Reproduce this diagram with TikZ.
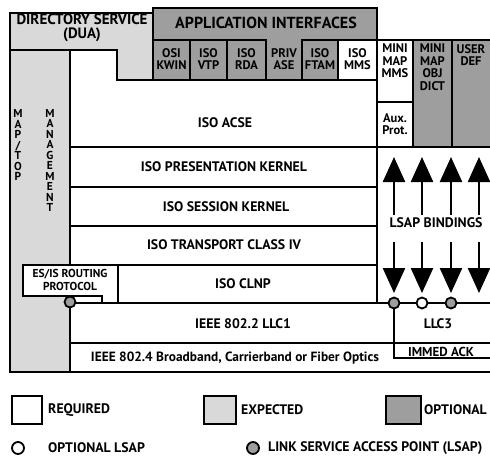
\documentclass[tikz,border=0pt]{standalone}
\usepackage{fontspec}
\setmainfont{PT Sans}
\usetikzlibrary{arrows.meta}
\definecolor{expc}{gray}{0.85}
\definecolor{optc}{gray}{0.62}
\begin{document}
\begin{tikzpicture}[x=1pt,y=-1pt,
  box/.style={draw=black, line width=1.5pt, line join=miter},
  lbl/.style={font=\bfseries\fontsize{13.8}{15}\selectfont, inner sep=0pt},
  hdr/.style={font=\bfseries\fontsize{15}{16}\selectfont, inner sep=0pt, align=center},
  sml/.style={font=\bfseries\fontsize{12.5}{12.5}\selectfont, inner sep=0pt, align=center},
  vert/.style={font=\bfseries\fontsize{11.5}{10.5}\selectfont, inner sep=0pt, align=center},
  leg/.style={font=\bfseries\fontsize{13.8}{15}\selectfont, inner sep=0pt, anchor=west},
  lsap/.style={circle, draw=black, line width=1.8pt, fill=optc, minimum size=11pt, inner sep=0pt},
  olsap/.style={circle, draw=black, line width=1.8pt, fill=white, minimum size=11pt, inner sep=0pt},
  arr/.style={line width=2.4pt, -{Triangle[length=25pt,width=22pt]}}]
\useasboundingbox (0,0) rectangle (490,460);
% directory service + management column
\filldraw[box, fill=expc] (10,13) -- (153,13) -- (153,80) -- (117,80) -- (117,50) -- (70,50) -- (70,372) -- (10,372) -- cycle;
\draw[box] (10,50) -- (117,50);
% application interfaces
\filldraw[box, fill=optc] (153,8) rectangle (377,80);
\filldraw[box, fill=optc] (153,40) rectangle (190,80);
\filldraw[box, fill=optc] (190,40) rectangle (227,80);
\filldraw[box, fill=optc] (227,40) rectangle (266,80);
\filldraw[box, fill=optc] (302,40) rectangle (338,80);
\filldraw[box, fill=white] (338,40) rectangle (377,80);
% right columns
\filldraw[box, fill=white] (377,40) rectangle (413,102);
\filldraw[box, fill=white] (377,102) rectangle (413,147);
\filldraw[box, fill=optc] (413,40) rectangle (452,147);
\filldraw[box, fill=optc] (452,40) rectangle (496,147);
% stack rows
\filldraw[box, fill=white] (70,50) -- (117,50) -- (117,80) -- (377,80) -- (377,147) -- (70,147) -- cycle;
\filldraw[box, fill=white] (70,147) rectangle (377,187);
\filldraw[box, fill=white] (70,187) rectangle (377,226);
\filldraw[box, fill=white] (70,226) rectangle (377,265);
\filldraw[box, fill=white] (377,147) rectangle (496,303);
\filldraw[box, fill=white] (118,265) rectangle (377,303);
\filldraw[box, fill=white] (23,265) -- (118,265) -- (118,303) -- (102,303) -- (102,296) -- (23,296) -- cycle;
\filldraw[box, fill=white] (70,303) rectangle (394,343);
\filldraw[box, fill=white] (70,343) rectangle (496,372);
\filldraw[box, fill=white] (394,343) rectangle (496,358);
\node[sml, font=\bfseries\fontsize{13}{13}\selectfont] (immed) at (441,352) {IMMED ACK};
\filldraw[box, fill=white] (394,303) rectangle (496,343);
% LSAP arrows
\foreach \i/\x in {1/394,2/422,3/451,4/479} {
  \coordinate (u\i s) at (\x,215);
  \coordinate (u\i e) at (\x,157);
  \coordinate (d\i s) at (\x,242);
  \coordinate (d\i e) at (\x,293);
  \draw[arr] (u\i s) -- (u\i e);
  \draw[arr] (d\i s) -- (d\i e);
}
\node[lsap] (c1) at (394,303) {};
\node[olsap] (c2) at (422,303) {};
\node[lsap] (c3) at (451,303) {};
\node[lsap] (cesis) at (70,302) {};
% texts
\node[hdr] (ds) at (82,19) {DIRECTORY SERVICE};
\node[hdr] (dua) at (82,35) {(DUA)};
\node[hdr, font=\bfseries\fontsize{16}{16}\selectfont] (appi) at (266,23) {APPLICATION INTERFACES};
\node[sml] (kwin) at (171.5,59) {OSI\\KWIN};
\node[sml] (vtp) at (208.5,59) {ISO\\VTP};
\node[sml] (rda) at (246.5,59) {ISO\\RDA};
\node[sml] (priv) at (284,59) {PRIV\\ASE};
\node[sml] (ftam) at (320,59) {ISO\\FTAM};
\node[sml] (mms) at (357.5,59) {ISO\\MMS};
\node[sml] (mmms) at (395,61) {MINI\\MAP\\MMS};
\node[sml] (obj) at (432.5,67) {MINI\\MAP\\OBJ\\DICT};
\node[sml] (udef) at (471,55) {USER\\DEF};
\node[sml] (aux) at (395,124) {Aux.\\Prot.};
\node[vert] (maptop) at (18,145) {M\\A\\P\\/\\T\\O\\P};
\node[vert] (mgmt) at (50,160.5) {M\\A\\N\\A\\G\\E\\M\\E\\N\\T};
\node[lbl] (acse) at (225,123) {ISO ACSE};
\node[lbl] (pres) at (224,167) {ISO PRESENTATION KERNEL};
\node[lbl] (sess) at (226,207) {ISO SESSION KERNEL};
\node[lbl] (trans) at (224,245) {ISO TRANSPORT CLASS IV};
\node[lbl] (clnp) at (243,284) {ISO CLNP};
\node[sml, font=\bfseries\fontsize{11.5}{13.5}\selectfont] (esis) at (70,280) {ES/IS ROUTING\\PROTOCOL};
\node[lbl] (llc1) at (243,324) {IEEE 802.2 LLC1};
\node[lbl] (llc3) at (438,324) {LLC3};
\node[lbl, font=\bfseries\fontsize{13.4}{15}\selectfont] (phy) at (235,358) {IEEE 802.4 Broadband, Carrierband or Fiber Optics};
\node[lbl] (bind) at (436,223) {LSAP BINDINGS};
% legend
\filldraw[box, fill=white] (12,396) rectangle (42,424);
\filldraw[box, fill=expc] (204,396) rectangle (236,424);
\filldraw[box, fill=optc] (386,396) rectangle (421,424);
\node[leg] (lreq) at (48,410) {REQUIRED};
\node[leg] (lexp) at (241,410) {EXPECTED};
\node[leg] (lopt) at (424,410) {OPTIONAL};
\node[olsap, minimum size=12pt, line width=1.8pt] (lc1) at (18,448) {};
\node[leg] (lol) at (48,448) {OPTIONAL LSAP};
\node[lsap, minimum size=12pt, line width=1.8pt] (lc2) at (253,448) {};
\node[leg] (lls) at (268,448) {LINK SERVICE ACCESS POINT (LSAP)};
\end{tikzpicture}
\end{document}
